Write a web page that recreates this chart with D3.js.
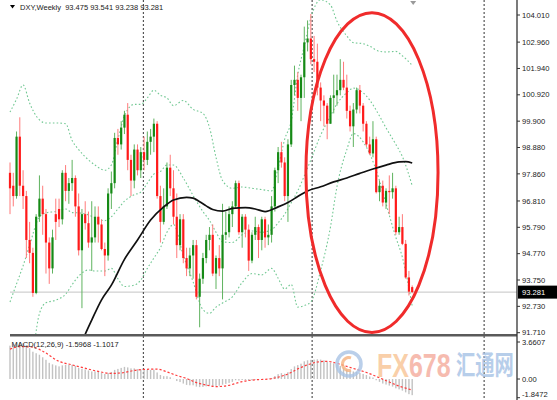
<!DOCTYPE html>
<html><head><meta charset="utf-8">
<script src="https://cdn.jsdelivr.net/npm/d3@7"></script>
<style>body{margin:0;background:#fff}svg{display:block}</style>
</head><body>
<svg id="c" width="557" height="400"></svg>
<script>
// ---- DATA (weekly DXY candles) ----
const opens = [97.9,97.4,97.0,99.3,97.4,97.0,95.3,94.8,93.25,96.2,
96.9,96.3,95.2,94.2,96.3,96.5,96.1,97.9,97.2,97.5,
97.7,96.6,94.9,96.3,95.95,95.2,95.4,96.2,95.9,94.95,
94.7,97.1,97.5,99.25,99.0,99.65,100.15,98.4,97.6,98.8,
98.0,98.7,98.4,99.1,99.3,99.8,97.0,96.0,96.6,98.1,
97.3,96.2,95.1,96.1,94.6,94.2,94.7,95.1,93.1,93.8,
94.6,95.3,95.5,94.0,94.6,94.2,95.5,95.6,96.3,96.6,
97.5,95.6,96.2,95.7,94.5,95.5,95.8,95.3,96.1,95.4,
95.5,96.6,98.0,98.7,98.3,97.0,99.0,101.3,101.5,100.8,
101.6,102.95,103.1,102.3,102.2,101.2,100.7,100.5,99.8,100.8,
100.9,101.1,101.5,101.2,100.3,99.7,100.35,101.1,100.5,99.8,
99.0,98.65,99.2,97.15,97.4,96.75,97.2,97.15,97.3,95.6,
95.8,95.15,93.85,93.475];
const highs = [98.3,97.9,99.5,100.05,98.0,97.2,96.0,95.0,96.3,97.8,
97.4,96.5,95.4,95.7,96.9,96.9,98.0,98.2,97.7,98.4,
97.8,97.1,96.5,96.8,96.4,96.8,96.6,96.6,96.1,95.2,
97.3,97.95,99.45,99.6,99.9,100.3,100.6,98.6,99.0,99.0,
98.9,99.3,99.5,99.6,100.0,99.9,97.4,97.3,98.3,98.6,
98.0,97.1,96.3,96.3,95.0,95.0,95.3,95.3,94.0,94.8,
95.5,95.8,95.9,94.7,95.1,96.7,96.4,96.6,96.8,97.6,
97.6,96.3,96.3,95.9,95.6,96.2,95.9,96.2,96.2,95.9,
97.0,98.1,98.9,99.1,98.5,99.2,101.5,102.05,101.8,101.7,
103.56,103.8,104.05,103.2,102.9,101.4,100.9,100.6,100.9,101.7,
101.7,102.3,102.2,101.7,100.5,100.6,101.2,101.3,100.6,99.9,
99.3,99.9,99.3,97.6,97.6,97.3,97.8,97.9,97.4,96.2,
96.3,95.3,94.1,93.541];
const lows = [96.3,96.6,96.9,97.0,96.5,94.6,94.4,93.1,93.2,96.0,
95.5,94.0,93.6,94.0,95.3,95.8,95.9,96.8,96.7,97.2,
96.2,94.7,92.66,95.7,95.0,94.1,95.2,95.2,94.9,93.9,
94.5,96.5,97.3,98.6,98.8,99.4,98.0,97.0,97.3,97.8,
97.7,98.0,98.2,98.6,98.7,96.9,95.2,95.9,96.5,97.0,
95.9,94.6,94.9,94.4,93.9,93.9,93.8,93.0,91.92,93.6,
94.4,94.9,93.9,93.4,93.9,93.0,95.3,95.4,95.8,96.5,
95.5,95.0,95.4,94.1,94.4,95.3,94.6,94.9,95.0,95.1,
95.2,96.4,97.5,98.1,96.8,96.0,98.9,100.9,100.3,99.9,
100.8,102.6,102.1,101.8,100.9,99.9,99.7,99.2,99.8,100.2,
100.5,100.9,101.1,100.0,99.5,98.9,100.2,100.2,99.5,98.9,
98.6,98.5,97.1,96.8,96.6,96.5,96.3,96.9,95.5,95.5,
95.1,93.8,93.15,93.238];
const closes = [97.3,97.0,99.3,97.4,97.0,95.3,94.8,93.25,96.2,96.9,
96.3,95.2,94.2,95.4,96.0,96.1,97.9,97.2,97.5,97.7,
96.6,94.9,96.3,95.95,95.2,95.4,96.2,95.9,94.95,94.7,
97.1,97.5,99.25,99.0,99.65,100.15,98.4,97.6,98.8,98.0,
98.7,98.4,99.1,99.3,99.8,97.0,96.0,96.6,98.1,97.3,
96.2,95.1,96.1,94.6,94.2,94.7,95.1,93.1,93.8,94.6,
95.3,95.5,94.0,94.6,94.2,95.5,95.6,96.3,96.6,97.5,
95.6,96.2,95.7,94.5,95.5,95.8,95.3,96.1,95.4,95.5,
96.6,98.0,98.7,98.3,97.0,99.0,101.3,101.5,100.8,101.6,
102.95,103.1,102.3,102.2,101.2,100.7,100.5,99.8,100.8,100.9,
101.1,101.5,101.2,100.3,99.7,100.35,101.1,100.5,99.8,99.0,
98.65,99.2,97.15,97.4,96.75,97.2,97.15,97.3,95.6,95.8,
95.15,93.85,93.3,93.281];

const bbIdx = [0,2,4,6,9,11,14,17,19,21,24,26,29,31,33,35,38,40,42,44,46,48,50,53,56,59,61,63,65,68,71,74,77,80,82,84,86,88,90,92,95,98,100,103,105,108,110,113,115,118,120,123];
const bbUpper = [100.25,100.75,101.3,100.6,99.95,99.83,99.83,99.8,99.15,98.8,98.4,98.2,98.0,98.2,99.2,100.1,100.55,100.55,100.8,101.1,100.9,100.8,100.5,100.7,100.36,100.2,99.66,98.5,97.6,97.3,97.35,97.3,97.25,97.2,98.1,99.2,99.9,101.7,102.8,103.9,104.6,104.4,103.77,103.2,102.94,102.9,102.8,102.6,102.58,102.6,102.43,102.06];
const bbMiddle = [92.9,93.6,94.3,95.1,96.2,96.35,96.4,96.5,96.36,96.35,96.27,96.15,96.05,96.2,96.5,96.8,97.05,97.15,97.5,97.85,97.95,98.2,98.2,97.7,97.02,96.4,96.06,95.6,95.23,95.2,95.5,95.65,95.6,95.7,95.96,96.3,96.74,97.2,97.78,98.4,99.36,100.1,100.57,101.0,101.18,101.0,100.72,100.1,99.64,99.0,98.53,97.4];
const bbLower = [85.55,86.45,87.3,89.6,92.45,92.87,92.97,93.2,93.57,93.9,94.14,94.1,94.1,94.2,93.8,93.5,93.55,93.75,94.2,94.6,95.0,95.6,95.9,94.7,93.68,92.6,92.46,92.7,92.86,93.1,93.65,94.0,93.95,94.2,93.82,93.4,93.58,92.7,92.76,92.9,94.12,95.8,97.37,98.8,99.42,99.1,98.64,97.6,96.7,95.4,94.63,92.74];

// long moving average (black line, sampled)
const maIdx = [21,23,25,28,31,35,39,43,47,50,54,56,58,60,62,65,68,72,75,78,82,85,88,91,95,99,103,107,111,115,119,121,123];
const maVal = [91.05,91.65,92.2,92.98,93.55,94.55,95.3,96.07,96.58,96.85,96.95,96.92,96.78,96.62,96.48,96.42,96.52,96.55,96.5,96.4,96.58,96.75,96.98,97.2,97.36,97.55,97.7,97.88,98.05,98.2,98.32,98.33,98.28];

// MACD(12,26,9)
const macdHist = [3.3,3.45,3.6,3.66,3.55,3.35,3.05,2.7,2.55,2.4,
2.15,1.9,1.6,1.45,1.35,1.25,1.35,1.4,1.4,1.4,
1.3,1.1,1.0,0.95,0.85,0.75,0.75,0.72,0.62,0.5,
0.6,0.7,0.9,1.0,1.1,1.2,1.15,1.05,1.05,0.98,
0.95,0.9,0.9,0.9,0.92,0.65,0.4,0.28,0.28,0.18,
0.02,-0.2,-0.3,-0.45,-0.58,-0.62,-0.62,-0.75,-0.8,-0.78,
-0.72,-0.65,-0.7,-0.68,-0.66,-0.56,-0.48,-0.38,-0.28,-0.12,
-0.15,-0.1,-0.1,-0.17,-0.12,-0.06,-0.06,0.0,0.0,0.02,
0.1,0.3,0.48,0.58,0.52,0.68,0.98,1.25,1.38,1.52,
1.75,1.85,1.9,1.92,1.95,1.92,1.85,1.72,1.62,1.55,
1.45,1.3,1.12,0.95,0.82,0.75,0.7,0.6,0.5,0.4,
0.25,0.15,-0.12,-0.28,-0.45,-0.55,-0.65,-0.75,-0.92,-1.02,
-1.15,-1.32,-1.5,-1.5968];
const sigIdx = [0,3,7,10,15,19,22,27,31,35,38,41,45,48,51,54,57,60,63,67,71,75,79,82,85,88,91,94,97,100,103,106,109,113,116,119,121,123];
const sigVal = [2.95,3.2,3.15,2.75,1.75,1.4,1.15,0.75,0.55,0.65,0.85,0.95,0.98,0.7,0.35,0.05,-0.35,-0.6,-0.75,-0.62,-0.25,-0.08,0.0,0.18,0.5,1.0,1.4,1.68,1.75,1.55,1.25,0.95,0.65,0.12,-0.3,-0.7,-0.9,-1.1017];

// axis ticks / labels
const priceTicks = [104.010,102.960,101.940,100.920,99.900,98.880,97.860,96.810,95.790,94.770,93.750,92.730,91.710];
const macdTicks = [3.6607,0,-1.8472];
const macdTickLabels = ["3.6607","0.00","-1.8472"];
const lastPrice = 93.281;
const yearSeparatorIdx = [40.8,92.4,145];
const legendText = "DXY,Weekly  93.475 93.541 93.238 93.281";
const macdLabel = "MACD(12,26,9) -1.5968 -1.1017";
const ellipseNote = {idx:110.7, price:97.91, halfWeeks:20.2, halfPrice:6.19};

// ---- DRAW ----
const svg = d3.select("#c");
const FONT = "'Liberation Sans', Arial, sans-serif";
const x = d3.scaleLinear().domain([0,123]).range([10,412.2]);
const y = d3.scaleLinear().domain([91.71,104.01]).range([332.7,15]);
const ym = d3.scaleLinear().domain([-1.8472,3.6607]).range([397.7,342]);
const AXIS_X = 517;

svg.append("rect").attr("width",557).attr("height",400).attr("fill","#fff");
const defs = svg.append("defs");
defs.append("clipPath").attr("id","mainClip").append("rect").attr("x",0).attr("y",0).attr("width",AXIS_X).attr("height",334);
defs.append("clipPath").attr("id","macdClip").append("rect").attr("x",0).attr("y",337).attr("width",AXIS_X).attr("height",63);

// current price line
svg.append("line").attr("x1",10).attr("x2",AXIS_X).attr("y1",y(lastPrice)).attr("y2",y(lastPrice))
  .attr("stroke","#c4c4c4").attr("stroke-width",1);

// year separators
svg.append("g").selectAll("line").data(yearSeparatorIdx).join("line")
  .attr("x1",d=>x(d)).attr("x2",d=>x(d)).attr("y1",0).attr("y2",400)
  .attr("stroke","#555").attr("stroke-width",1.2).attr("stroke-dasharray","2,2");

const main = svg.append("g").attr("clip-path","url(#mainClip)");

// Bollinger bands
const bbLine = arr => d3.line().x((d,k)=>x(bbIdx[k])).y(d=>y(d)).curve(d3.curveMonotoneX)(arr);
[bbUpper,bbMiddle,bbLower].forEach(arr=>{
  main.append("path").attr("d",bbLine(arr)).attr("fill","none")
    .attr("stroke","#72c893").attr("stroke-width",1.1).attr("stroke-dasharray","1.6,2.2");
});

// candles
const idx = d3.range(closes.length);
const up = i => closes[i] >= opens[i];
main.append("g").selectAll("line").data(idx).join("line")
  .attr("x1",i=>x(i)).attr("x2",i=>x(i)).attr("y1",i=>y(highs[i])).attr("y2",i=>y(lows[i]))
  .attr("stroke",i=>up(i)?"#5fb35f":"#ff7a7a").attr("stroke-width",1);
main.append("g").selectAll("rect").data(idx).join("rect")
  .attr("x",i=>x(i)-1.1).attr("width",2.2)
  .attr("y",i=>y(Math.max(opens[i],closes[i])))
  .attr("height",i=>Math.max(0.9,Math.abs(y(opens[i])-y(closes[i]))))
  .attr("fill",i=>up(i)?"#168a16":"#ff1a1a");

// moving average
main.append("path")
  .attr("d",d3.line().x((d,k)=>x(maIdx[k])).y(d=>y(d)).curve(d3.curveMonotoneX)(maVal))
  .attr("fill","none").attr("stroke","#111").attr("stroke-width",1.7);

// red ellipse annotation
svg.append("ellipse")
  .attr("cx",x(ellipseNote.idx)).attr("cy",y(ellipseNote.price))
  .attr("rx",x(ellipseNote.idx+ellipseNote.halfWeeks)-x(ellipseNote.idx))
  .attr("ry",y(ellipseNote.price-ellipseNote.halfPrice)-y(ellipseNote.price))
  .attr("fill","none").attr("stroke","#f02b2b").attr("stroke-width",3);

// pane separator
svg.append("line").attr("x1",10).attr("x2",AXIS_X).attr("y1",335.2).attr("y2",335.2)
  .attr("stroke","#5a5a5a").attr("stroke-width",2.4);

// MACD pane
const mg = svg.append("g").attr("clip-path","url(#macdClip)");
mg.append("g").selectAll("rect").data(idx).join("rect")
  .attr("x",i=>x(i)-0.7).attr("width",1.4)
  .attr("y",i=>Math.min(ym(macdHist[i]),ym(0)))
  .attr("height",i=>Math.abs(ym(macdHist[i])-ym(0)))
  .attr("fill","#c2c2c2");
mg.append("path")
  .attr("d",d3.line().x((d,k)=>x(sigIdx[k])).y(d=>ym(d)).curve(d3.curveMonotoneX)(sigVal))
  .attr("fill","none").attr("stroke","#ff3b3b").attr("stroke-width",1.2).attr("stroke-dasharray","2.2,2");

// watermark
const wm = svg.append("g").attr("opacity",0.8);
wm.append("circle").attr("cx",349).attr("cy",364).attr("r",12).attr("fill","none")
  .attr("stroke","#a9c4e6").attr("stroke-width",3.5);
wm.append("path").attr("d",d3.arc()({innerRadius:5,outerRadius:8,startAngle:Math.PI*0.9,endAngle:Math.PI*2.1}))
  .attr("transform","translate(349,364)").attr("fill","#f6b27f");
const wt = wm.append("text").attr("x",377).attr("y",377).attr("font-family",FONT).attr("font-weight","bold")
  .attr("font-size",25).attr("transform","translate(377,377) scale(1,1.35) translate(-377,-377)");
wt.append("tspan").attr("fill","#f8c494").text("FX");
wt.append("tspan").attr("fill","#f5ab9c").text("678");
wm.append("text").attr("x",456).attr("y",375).attr("font-family","'Noto Sans CJK SC', sans-serif")
  .attr("font-weight","bold").attr("font-size",19.3)
  .attr("transform","translate(456,375) scale(1,1.4) translate(-456,-375)")
  .attr("fill","#a6c2e6").text("汇通网");

// price axis
svg.append("line").attr("x1",AXIS_X).attr("x2",AXIS_X).attr("y1",0).attr("y2",400)
  .attr("stroke","#333").attr("stroke-width",1.3);
const ax = svg.append("g").attr("font-family",FONT).attr("font-size",7.6).attr("fill","#222");
ax.selectAll("line.pt").data(priceTicks).join("line").attr("class","pt")
  .attr("x1",AXIS_X).attr("x2",AXIS_X+3).attr("y1",d=>y(d)).attr("y2",d=>y(d)).attr("stroke","#333");
ax.selectAll("text.pt").data(priceTicks).join("text").attr("class","pt")
  .attr("x",AXIS_X+5).attr("y",d=>y(d)).attr("dy","0.35em").text(d=>d.toFixed(3));
ax.selectAll("line.mt").data(macdTicks).join("line").attr("class","mt")
  .attr("x1",AXIS_X).attr("x2",AXIS_X+3).attr("y1",d=>ym(d)).attr("y2",d=>ym(d)).attr("stroke","#333");
ax.selectAll("text.mt").data(macdTicks).join("text").attr("class","mt")
  .attr("x",AXIS_X+5).attr("y",(d,k)=>Math.min(ym(d),394.5)).attr("dy","0.35em").text((d,k)=>macdTickLabels[k]);
// current price tag
svg.append("rect").attr("x",AXIS_X+1).attr("y",y(lastPrice)-6.5).attr("width",39).attr("height",13).attr("fill","#000");
svg.append("text").attr("x",AXIS_X+5).attr("y",y(lastPrice)).attr("dy","0.35em")
  .attr("font-family",FONT).attr("font-size",7.6).attr("fill","#fff").text(lastPrice.toFixed(3));

// legend & labels
svg.append("path").attr("d","M10,5 L15,5 L12.5,8.5 Z").attr("fill","#000");
svg.append("text").attr("x",20).attr("y",10).attr("font-family",FONT).attr("font-size",7.5)
  .attr("fill","#222").attr("xml:space","preserve").style("white-space","pre").text(legendText);
svg.append("text").attr("x",11.5).attr("y",346.5).attr("font-family",FONT).attr("font-size",7.5)
  .attr("fill","#222").text(macdLabel);
// chart shift marker
svg.append("path").attr("d",`M${x(123)-2},1 L${x(123)+4},1 L${x(123)+1},5 Z`).attr("fill","#9a9a9a");
</script>
</body></html>
